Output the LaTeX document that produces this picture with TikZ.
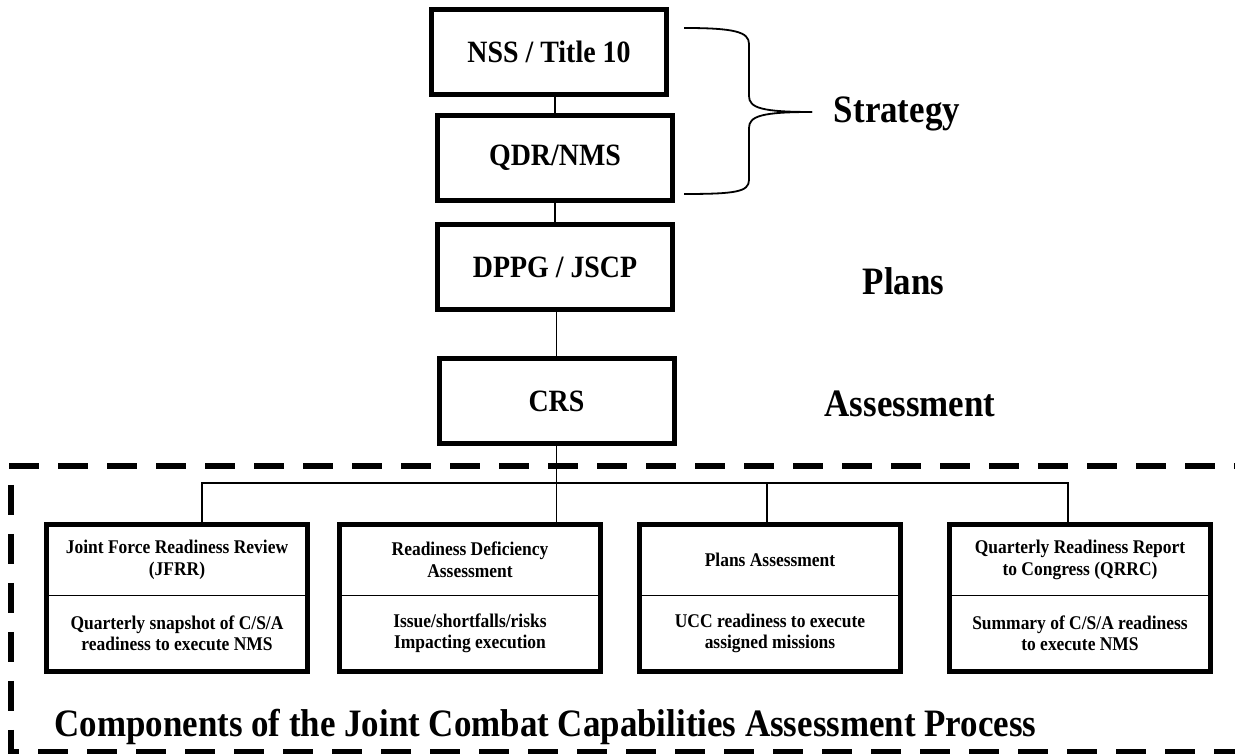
\documentclass[tikz,border=0pt]{standalone}
\usepackage{fontspec}
\setmainfont[FakeStretch=0.9]{Liberation Serif}
\usetikzlibrary{positioning}

\begin{document}
\begin{tikzpicture}[x=1pt, y=1pt, node distance=106pt]
    \tikzstyle{box}=[draw, line width=5pt, minimum width=235pt, minimum height=85pt, font=\fontsize{31}{36}\selectfont\bfseries];
    \tikzstyle{cardtop}=[draw, line width=1.5pt, outer sep=0pt, minimum width=261pt, minimum height=71pt, align=center, font=\fontsize{19.4}{21.5}\selectfont\bfseries];
    \tikzstyle{cardbot}=[cardtop, minimum height=76pt];
    \tikzstyle{phase}=[anchor=base, font=\fontsize{38.8}{45}\selectfont\bfseries];
    \tikzstyle{wire}=[line width=1.8pt];
    \tikzstyle{border}=[line width=6pt, dash pattern=on 30pt off 19pt];

    \useasboundingbox (0,0) rectangle (1235,754);

    % main column
    \node[box] (nss) at (549,702) {NSS / Title 10};
    \node[box, below of=nss, xshift=6pt] (qdr) {QDR/NMS};
    \node[box, below of=qdr, yshift=-3pt] (dppg) {DPPG / JSCP};
    \node[box, below of=dppg, yshift=-28pt, xshift=1.5pt] (crs) {CRS};

    \draw[wire] (qdr.north) -- (qdr.north |- nss.south);
    \draw[wire] (dppg.north) -- (dppg.north |- qdr.south);
    \draw[wire] (crs.north) -- (crs.north |- dppg.south);

    % phases on the right
    \node[phase] (strategy) at (897,631) {Strategy};
    \node[phase] (plans) at (903.5,459) {Plans};
    \node[phase] (assess) at (910,337) {Assessment};

    \coordinate (tip) at (812,642);
    \draw[wire] (684,726) .. controls (735,726) and (749,722) .. (749,710) -- (749,658) .. controls (749,646) and (762,642) .. (tip);
    \draw[wire] (tip) .. controls (762,642) and (749,638) .. (749,626) -- (749,574) .. controls (749,562) and (735,560) .. (684,560);

    % components
    \node[cardtop] (jfrrT) at (177,194) {Joint Force Readiness Review\\(JFRR)};
    \node[cardbot, below=0pt of jfrrT] (jfrrB) {Quarterly snapshot of C/S/A\\readiness to execute NMS};
    \draw[line width=5pt] (jfrrT.north west) rectangle (jfrrB.south east);

    \node[cardtop] (rdaT) at (470,194) {Readiness Deficiency\\Assessment};
    \node[cardbot, below=0pt of rdaT] (rdaB) {Issue/shortfalls/risks\\Impacting execution};
    \draw[line width=5pt] (rdaT.north west) rectangle (rdaB.south east);

    \node[cardtop] (paT) at (770,194) {Plans Assessment};
    \node[cardbot, below=0pt of paT] (paB) {UCC readiness to execute\\assigned missions};
    \draw[line width=5pt] (paT.north west) rectangle (paB.south east);

    \node[cardtop] (qrrcT) at (1080,194) {Quarterly Readiness Report\\to Congress (QRRC)};
    \node[cardbot, below=0pt of qrrcT] (qrrcB) {Summary of C/S/A readiness\\to execute NMS};
    \draw[line width=5pt] (qrrcT.north west) rectangle (qrrcB.south east);

    \coordinate (bus) at (557.5,271);
    \draw[wire] (crs) -- (crs |- rdaT.north);
    \draw[wire] ([xshift=25pt]jfrrT.north) |- (bus) -| ([xshift=-12pt]qrrcT.north);
    \draw[wire] ([xshift=-3pt]paT.north) -- ([xshift=-3pt]paT.north |- bus);

    \node[anchor=base west, font=\fontsize{38.8}{45}\selectfont\bfseries] (caption) at (51,17) {Components of the Joint Combat Capabilities Assessment Process};

    % dashed frame
    \draw[border] (9,288) -- (1240,288);
    \draw[border, dash phase=30pt] (11,288) -- (11,2) -- (1240,2);
\end{tikzpicture}
\end{document}
